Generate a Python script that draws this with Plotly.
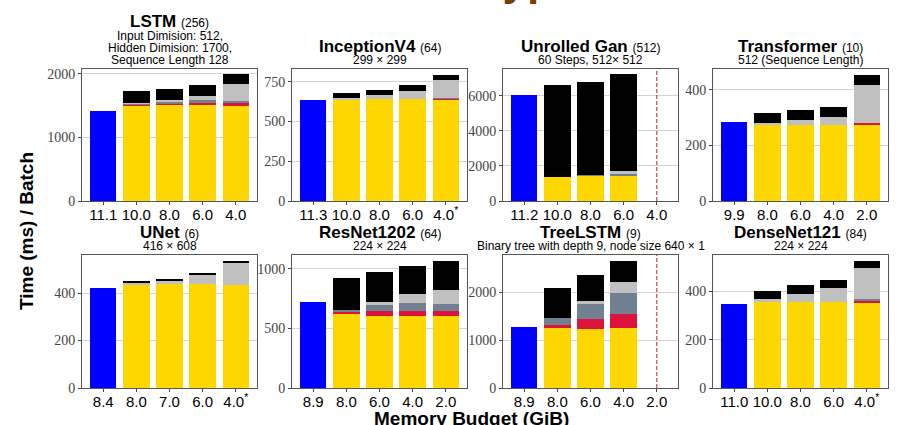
import plotly.graph_objects as go

W, H = 911, 425

# ---------------- data ----------------
titles = ["LSTM", "InceptionV4", "Unrolled Gan", "Transformer",
          "UNet", "ResNet1202", "TreeLSTM", "DenseNet121"]
batch = ["(256)", "(64)", "(512)", "(10)", "(6)", "(64)", "(9)", "(84)"]
subtitles = [
    ["Input Dimision: 512,", "Hidden Dimision: 1700,", "Sequence Length 128"],
    ["299 \u00d7 299"],
    ["60 Steps, 512\u00d7 512"],
    ["512 (Sequence Length)"],
    ["416 \u00d7 608"],
    ["224 \u00d7 224"],
    ["Binary tree with depth 9, node size 640 \u00d7 1"],
    ["224 \u00d7 224"],
]
categories = [
    ["11.1", "10.0", "8.0", "6.0", "4.0"],
    ["11.3", "10.0", "8.0", "6.0", "4.0*"],
    ["11.2", "10.0", "8.0", "6.0", "4.0"],
    ["9.9", "8.0", "6.0", "4.0", "2.0"],
    ["8.4", "8.0", "7.0", "6.0", "4.0*"],
    ["8.9", "8.0", "6.0", "4.0", "2.0"],
    ["8.9", "8.0", "6.0", "4.0", "2.0"],
    ["11.0", "10.0", "8.0", "6.0", "4.0*"],
]
baseline = [1415, 635, 6070, 285, 422, 720, 1264, 348]
compute = [
    [1502, 1510, 1510, 1502],
    [640, 640, 640, 638],
    [1390, 1440, 1430, None],
    [275, 275, 275, 275],
    [438, 438, 438, 434],
    [618, 607, 602, 602],
    [1243, 1229, 1243, None],
    [355, 355, 355, 353],
]
red_part = [
    [8, 20, 30, 31],
    [0, 0, 0, 5],
    [0, 0, 40, None],
    [0, 0, 0, 4],
    [0, 0, 0, 0],
    [17, 34, 44, 39],
    [76, 208, 313, None],
    [0, 0, 0, 10],
]
slate_part = [
    [20, 30, 40, 42],
    [0, 0, 0, 3],
    [0, 30, 50, None],
    [0, 0, 0, 0],
    [0, 0, 0, 0],
    [17, 55, 70, 61],
    [139, 313, 430, None],
    [0, 0, 0, 5],
]
lgray_part = [
    [15, 30, 75, 262],
    [8, 27, 52, 114],
    [0, 0, 210, None],
    [4, 15, 27, 140],
    [5, 15, 39, 92],
    [0, 28, 70, 117],
    [0, 76, 236, None],
    [11, 35, 57, 130],
]
black_part = [
    [180, 168, 166, 158],
    [31, 33, 37, 34],
    [5220, 5310, 5500, None],
    [37, 36, 37, 36],
    [6, 7, 6, 10],
    [273, 251, 239, 245],
    [632, 528, 431, None],
    [35, 35, 35, 27],
]
infeasible = [None, None, 4, None, None, None, 4, None]
y_max = [2075, 830, 7540, 475, 561, 1114, 2778, 550]
y_ticks = [
    [0, 1000, 2000], [0, 250, 500, 750], [0, 2000, 4000, 6000], [0, 200, 400],
    [0, 200, 400], [0, 500, 1000], [0, 1000, 2000], [0, 200, 400],
]

# ---------------- styling ----------------
C_BLUE, C_YELLOW, C_RED, C_SLATE, C_LGRAY, C_BLACK = (
    "#0000ff", "#ffd700", "#dc143c", "#708090", "#c0c0c0", "#000000")
SANS = "Liberation Sans"
SERIF = "Liberation Serif"

col_px = [(82, 257), (292, 467), (503, 678), (713, 888)]
row_px = [(69, 201), (255, 388)]

fig = go.Figure()
layout = dict(
    width=W, height=H, margin=dict(l=0, r=0, t=0, b=0, pad=0, autoexpand=False),
    paper_bgcolor="white", plot_bgcolor="white",
    barmode="stack", bargap=0.2, showlegend=False,
    annotations=[], shapes=[],
)

for i in range(8):
    r, c = divmod(i, 4)
    ax = "" if i == 0 else str(i + 1)
    xref, yref = "x" + ax, "y" + ax
    cats = categories[i]
    rest = cats[1:]

    fig.add_trace(go.Bar(x=[cats[0]], y=[baseline[i]], marker=dict(color=C_BLUE, line=dict(width=0)),
                         xaxis=xref, yaxis=yref, hoverinfo="skip"))
    for vals, col in [(compute[i], C_YELLOW), (red_part[i], C_RED), (slate_part[i], C_SLATE),
                      (lgray_part[i], C_LGRAY), (black_part[i], C_BLACK)]:
        fig.add_trace(go.Bar(x=rest, y=vals, marker=dict(color=col, line=dict(width=0)),
                             xaxis=xref, yaxis=yref, hoverinfo="skip"))

    x0, x1 = col_px[c]
    yt, yb = row_px[r]
    ticktext = [t.replace("*", "<sup>*</sup>") for t in cats]
    layout["xaxis" + ax] = dict(
        domain=[x0 / W, x1 / W], anchor=yref, type="category", automargin=False,
        categoryorder="array", categoryarray=cats, range=[-0.64, 4.64],
        tickmode="array", tickvals=cats, ticktext=ticktext,
        ticks="outside", ticklen=3, tickcolor="#444", ticklabelstandoff=-3,
        tickfont=dict(family=SANS, size=15, color="black"),
        showline=True, mirror=True, linecolor="#555", linewidth=1,
        showgrid=False, zeroline=False, fixedrange=True,
    )
    layout["yaxis" + ax] = dict(
        domain=[(H - yb) / H, (H - yt) / H], anchor=xref, automargin=False,
        range=[0, y_max[i]], tickmode="array", tickvals=y_ticks[i],
        ticktext=[str(v) for v in y_ticks[i]],
        ticks="outside", ticklen=3, tickcolor="#444",
        tickfont=dict(family=SERIF, size=14, color="#444"),
        showline=True, mirror=True, linecolor="#555", linewidth=1,
        showgrid=True, gridcolor="#d3d3d3", gridwidth=1,
        zeroline=False, fixedrange=True,
    )

    if infeasible[i] is not None:
        layout["shapes"].append(dict(
            type="line", xref=xref, yref=yref + " domain",
            x0=infeasible[i], x1=infeasible[i], y0=0, y1=1,
            line=dict(color="#d0404a", width=1.2, dash="4px,2px")))

    xc = (x0 + x1) / 2 / W
    subs = subtitles[i]
    n = len(subs)
    for k, s in enumerate(subs):
        py = yt - 9 - 12 * (n - 1 - k)
        layout["annotations"].append(dict(
            text=s, x=xc, y=(H - py) / H, xref="paper", yref="paper",
            xanchor="center", yanchor="middle", showarrow=False,
            font=dict(family=SANS, size=12, color="black")))
    ty = yt - 9 - 12 * (n - 1) - 14
    layout["annotations"].append(dict(
        text="<b>%s</b> <span style='font-size:12px'>%s</span>" % (titles[i], batch[i]),
        x=xc, y=(H - ty) / H, xref="paper", yref="paper",
        xanchor="center", yanchor="middle", showarrow=False,
        font=dict(family=SANS, size=17, color="black")))

layout["annotations"].append(dict(
    text="<b>Time (ms) / Batch</b>", textangle=-90, x=27 / W, y=(H - 231) / H,
    xref="paper", yref="paper", xanchor="center", yanchor="middle", showarrow=False,
    font=dict(family=SANS, size=19, color="black")))
layout["annotations"].append(dict(
    text="<b>Memory Budget (GiB)</b>", x=471 / W, y=(H - 418) / H,
    xref="paper", yref="paper", xanchor="center", yanchor="middle", showarrow=False,
    font=dict(family=SANS, size=19, color="black")))
# cropped heading fragment at very top (only its descenders are visible)
layout["annotations"].append(dict(
    text="<b>Type</b>", x=477 / W, y=(H - 6) / H,
    xref="paper", yref="paper", xanchor="left", yanchor="bottom", showarrow=False,
    font=dict(family=SANS, size=44, color="#7a3e00")))

fig.update_layout(**layout)
fig.write_html("out.html", config={"displayModeBar": False})

# remove the default page margin so the figure sits at the window's top-left corner
with open("out.html", "r", encoding="utf-8") as f:
    html = f.read()
html = html.replace("<head>", "<head><style>html,body{margin:0;padding:0;overflow:hidden;}</style>", 1)
with open("out.html", "w", encoding="utf-8") as f:
    f.write(html)
